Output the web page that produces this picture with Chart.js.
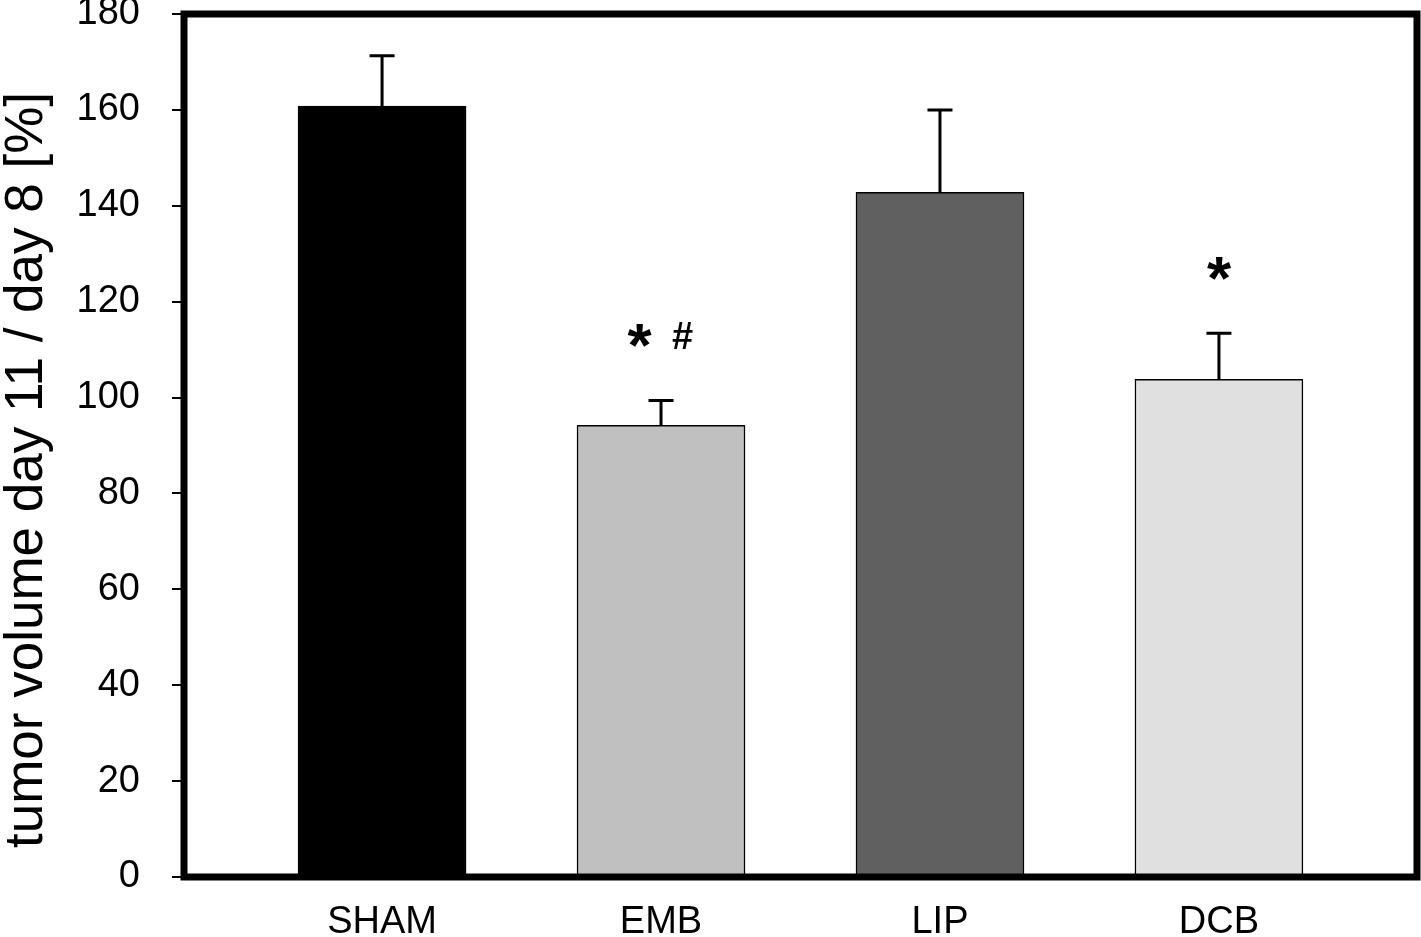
<!DOCTYPE html>
<html>
<head>
<meta charset="utf-8">
<script src="https://cdn.jsdelivr.net/npm/chart.js@4"></script>
<style>
  html, body { margin: 0; padding: 0; background: #fff; }
  #wrap { width: 1421px; height: 937px; }
</style>
</head>
<body>
<div id="wrap"><canvas id="volumeChart"></canvas></div>
<script>
const groups = ['SHAM', 'EMB', 'LIP', 'DCB'];
const meanVolume = [160.8, 94.2, 142.8, 103.8];
const errorUp = [10.5, 5.2, 17.2, 9.6];
const significance = ['', '* #', '', '*'];
const barColors = ['#000000', '#c0c0c0', '#606060', '#e0e0e0'];
const yTicks = [0, 20, 40, 60, 80, 100, 120, 140, 160, 180];

const fontFamily = '"Liberation Sans", Arial, Helvetica, sans-serif';

// upward error bars + significance marks + frame + rotated y title
const extras = {
    id: 'extras',
    afterDatasetsDraw(chart) {
        const ctx = chart.ctx;
        const xs = chart.scales.x;
        const ys = chart.scales.y;

        ctx.save();
        ctx.strokeStyle = '#000';
        ctx.fillStyle = '#000';
        ctx.lineWidth = 3;
        groups.forEach((g, i) => {
            const x = xs.getPixelForValue(i + 1);
            const yBar = ys.getPixelForValue(meanVolume[i]);
            const yErr = ys.getPixelForValue(meanVolume[i] + errorUp[i]);
            ctx.beginPath();
            ctx.moveTo(x, yBar);
            ctx.lineTo(x, yErr);
            ctx.moveTo(x - 12.5, yErr);
            ctx.lineTo(x + 12.5, yErr);
            ctx.stroke();

            const marks = significance[i].split(' ').filter(m => m);
            const gap = 43;
            marks.forEach((m, k) => {
                const mx = x + (k - (marks.length - 1) / 2) * gap;
                const my = yErr - 65;
                ctx.font = 'bold ' + (m === '*' ? 62 : 38) + 'px ' + fontFamily;
                ctx.textAlign = 'center';
                ctx.textBaseline = 'alphabetic';
                const mt = ctx.measureText(m);
                const off = (mt.actualBoundingBoxAscent - mt.actualBoundingBoxDescent) / 2;
                ctx.fillText(m, mx, my + off);
            });
        });
        ctx.restore();
    },
    afterDraw(chart) {
        const ctx = chart.ctx;
        const a = chart.chartArea;
        ctx.save();
        ctx.strokeStyle = '#000';
        ctx.lineWidth = 7;
        ctx.strokeRect(a.left, a.top, a.right - a.left, a.bottom - a.top);

        ctx.translate(42, 470);
        ctx.rotate(-Math.PI / 2);
        ctx.font = '53px ' + fontFamily;
        ctx.fillStyle = '#000';
        ctx.textAlign = 'center';
        ctx.textBaseline = 'alphabetic';
        ctx.fillText('tumor volume day 11 / day 8 [%]', 0, 0);
        ctx.restore();
    }
};

new Chart(document.getElementById('volumeChart'), {
    type: 'bar',
    data: {
        datasets: [{
            data: meanVolume.map((v, i) => ({ x: i + 1, y: v })),
            backgroundColor: barColors,
            borderColor: '#000',
            borderWidth: 1.5,
            barThickness: 168
        }]
    },
    options: {
        responsive: true,
        maintainAspectRatio: false,
        animation: false,
        layout: { padding: { top: 14, right: 4, left: 0, bottom: 0 } },
        plugins: {
            legend: { display: false },
            tooltip: { enabled: false }
        },
        scales: {
            x: {
                type: 'linear',
                offset: false,
                min: 1 - 0.71,
                max: groups.length + 0.71,
                afterBuildTicks: s => { s.ticks = groups.map((g, i) => ({ value: i + 1 })); },
                afterFit: s => { s.height = 60; s.paddingLeft = 0; s.paddingRight = 0; },
                grid: { display: false, drawTicks: false },
                border: { display: false },
                ticks: {
                    padding: 23,
                    color: '#000',
                    font: { family: fontFamily, size: 38 },
                    callback: v => groups[v - 1]
                }
            },
            y: {
                min: 0,
                max: 180,
                afterBuildTicks: s => { s.ticks = yTicks.map(v => ({ value: v })); },
                afterFit: s => { s.width = 184; s.paddingTop = 0; s.paddingBottom = 0; },
                grid: {
                    drawOnChartArea: false,
                    drawTicks: true,
                    tickLength: 12,
                    color: '#000',
                    lineWidth: 2
                },
                border: { display: false },
                ticks: {
                    padding: 32,
                    color: '#000',
                    font: { family: fontFamily, size: 38 }
                }
            }
        }
    },
    plugins: [extras]
});
</script>
</body>
</html>
